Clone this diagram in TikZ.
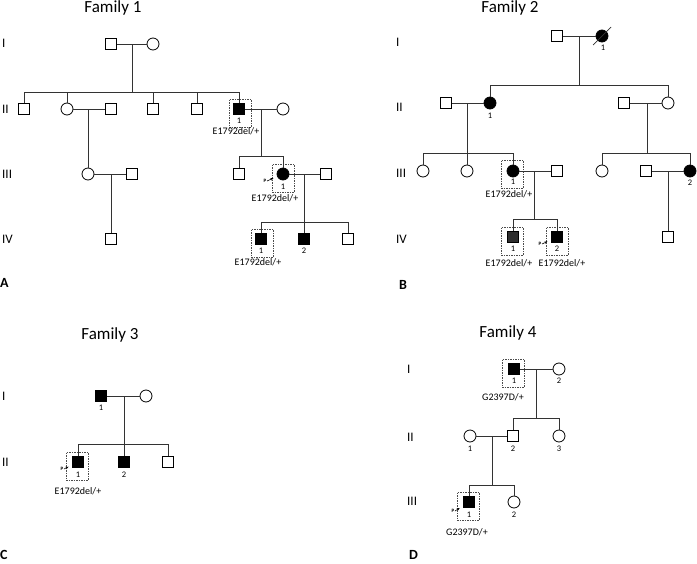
\documentclass[tikz,border=0pt]{standalone}
\usepackage{fontspec}
\setmainfont{Carlito}
\usetikzlibrary{shapes,arrows.meta}

\tikzset{
  male/.style={shape=rectangle,draw=black,minimum size=11pt,inner sep=0pt,line width=0.8pt},
  female/.style={shape=circle,draw=black,minimum size=12pt,inner sep=0pt,line width=0.8pt},
  aff/.style={fill=black},
  line/.style={draw=black!80,line width=0.8pt},
  num/.style={font=\fontsize{8.5}{8.5}\selectfont,inner sep=0pt},
  geno/.style={font=\fontsize{10}{10}\selectfont,inner sep=0pt},
  gen/.style={font=\fontsize{13}{13}\selectfont,anchor=west,inner sep=0pt},
  title/.style={font=\fontsize{17}{17}\selectfont,inner sep=0pt},
  panel/.style={font=\fontsize{14}{14}\selectfont\bfseries,anchor=west,inner sep=0pt},
  probox/.style={draw=black!70,dash pattern=on 1.5pt off 1pt,line width=0.6pt,minimum width=22pt,minimum height=28pt,inner sep=0pt},
  parrow/.style={-{Stealth[length=3pt,width=2.5pt]},line width=0.6pt,shorten >=4pt},
  plabel/.style={font=\fontsize{5}{5}\selectfont\bfseries,inner sep=0.5pt,anchor=east},
}

\begin{document}
\begin{tikzpicture}[x=1pt,y=-1pt]
\useasboundingbox (0,0) rectangle (697,563);

% Family 1
\node[title] (t1) at (113,8) {Family 1};
\node[gen] (f1gI) at (2,43) {I};
\node[gen] (f1gII) at (2,109) {II};
\node[gen] (f1gIII) at (2,174) {III};
\node[gen] (f1gIV) at (2,239) {IV};
\node[panel] (pa) at (0,283) {A};

\node[male] (f1i1) at (111,44) {};
\node[female] (f1i2) at (153,44) {};
\coordinate (f1m1) at (132,44);
\coordinate (f1s1) at (132,92);

\node[male] (f1ii1) at (24,109) {};
\node[female] (f1ii2) at (67,109) {};
\node[male] (f1ii3) at (111,109) {};
\node[male] (f1ii4) at (153,109) {};
\node[male] (f1ii5) at (197,109) {};
\node[male,aff] (f1ii6) at (239,109) {};
\node[female] (f1ii7) at (283,109) {};
\node[probox] (f1bx1) at (240,113) {};
\node[num] (f1n1) at (239,121) {1};
\node[geno] (f1g1) at (236,131) {E1792del/+};
\coordinate (f1m2) at (88,109);
\coordinate (f1m3) at (261,109);
\coordinate (f1s3) at (261,156);

\node[female] (f1iii1) at (88,174) {};
\node[male] (f1iii2) at (132,174) {};
\node[male] (f1iii3) at (239,174) {};
\node[female,aff] (f1iii4) at (283,174) {};
\node[male] (f1iii5) at (326,174) {};
\node[probox] (f1bx2) at (283,178) {};
\node[num] (f1n2) at (283,187) {1};
\node[geno] (f1g2) at (275,198) {E1792del/+};
\coordinate (f1p1) at (267,181);
\node[plabel] (f1pl1) at (f1p1) {P};
\coordinate (f1m4) at (111,174);
\coordinate (f1m5) at (304,174);
\coordinate (f1s5) at (304,222);

\node[male] (f1iv1) at (111,239) {};
\node[male,aff] (f1iv2) at (261,239) {};
\node[male,aff] (f1iv3) at (304,239) {};
\node[male] (f1iv4) at (348,239) {};
\node[probox] (f1bx3) at (262,243) {};
\node[num] (f1n3) at (261,251) {1};
\node[num] (f1n4) at (304,251) {2};
\node[geno] (f1g3) at (258,262) {E1792del/+};

\draw[line] (f1i1) -- (f1i2);
\draw[line] (f1m1) -- (f1s1);
\foreach \c in {f1ii1,f1ii2,f1ii4,f1ii5,f1ii6}
  \draw[line] (f1s1) -| (\c);
\draw[line] (f1ii2) -- (f1ii3);
\draw[line] (f1m2) -- (f1iii1);
\draw[line] (f1ii6) -- (f1ii7);
\draw[line] (f1m3) -- (f1s3);
\draw[line] (f1s3) -| (f1iii3);
\draw[line] (f1s3) -| (f1iii4);
\draw[line] (f1iii1) -- (f1iii2);
\draw[line] (f1m4) -- (f1iv1);
\draw[line] (f1iii4) -- (f1iii5);
\draw[line] (f1m5) -- (f1s5);
\foreach \c in {f1iv2,f1iv3,f1iv4}
  \draw[line] (f1s5) -| (\c);
\draw[parrow] (f1p1) -- (f1iii4);

% Family 2
\node[title] (t2) at (510,8) {Family 2};
\node[gen] (f2gI) at (396,42) {I};
\node[gen] (f2gII) at (396,107) {II};
\node[gen] (f2gIII) at (396,173) {III};
\node[gen] (f2gIV) at (396,239) {IV};
\node[panel] (pb) at (399,285) {B};

\node[male] (f2i1) at (557,36) {};
\node[female,aff] (f2i2) at (602,36) {};
\node[num] (f2n1) at (603,48) {1};
\coordinate (f2d1) at (593,45);
\coordinate (f2d2) at (611,27);
\coordinate (f2m1) at (579,36);
\coordinate (f2s1) at (579,85);

\node[male] (f2ii1) at (446,103) {};
\node[female,aff] (f2ii2) at (490,103) {};
\node[num] (f2n2) at (490,116) {1};
\node[male] (f2ii3) at (624,103) {};
\node[female] (f2ii4) at (668,103) {};
\coordinate (f2m2) at (467,103);
\coordinate (f2s2) at (467,153);
\coordinate (f2m3) at (647,103);
\coordinate (f2s3) at (647,153);

\node[female] (f2iii1) at (423,171) {};
\node[female] (f2iii2) at (467,171) {};
\node[female,aff] (f2iii3) at (513,171) {};
\node[male] (f2iii4) at (557,171) {};
\node[female] (f2iii5) at (602,171) {};
\node[male] (f2iii6) at (646,171) {};
\node[female,aff] (f2iii7) at (690,171) {};
\node[num] (f2n3) at (690,183) {2};
\node[probox] (f2bx1) at (512,174) {};
\node[num] (f2n4) at (513,182) {1};
\node[geno] (f2g1) at (509,194) {E1792del/+};
\coordinate (f2m4) at (534,171);
\coordinate (f2s4) at (534,219);
\coordinate (f2m5) at (668,171);

\node[male,fill=black!82] (f2iv1) at (513,237) {};
\node[male,aff] (f2iv2) at (557,237) {};
\node[male] (f2iv3) at (668,237) {};
\node[probox] (f2bx2) at (512,241) {};
\node[probox] (f2bx3) at (557,241) {};
\node[num] (f2n5) at (513,249) {1};
\node[num] (f2n6) at (557,249) {2};
\node[geno] (f2g2) at (509,263) {E1792del/+};
\node[geno] (f2g3) at (562,263) {E1792del/+};
\coordinate (f2p1) at (542,244);
\node[plabel] (f2pl1) at (f2p1) {P};

\draw[line] (f2i1) -- (f2i2);
\draw[line,line width=0.7pt] (f2d1) -- (f2d2);
\draw[line] (f2m1) -- (f2s1);
\draw[line] (f2s1) -| (f2ii2);
\draw[line] (f2s1) -| (f2ii4);
\draw[line] (f2ii1) -- (f2ii2);
\draw[line] (f2ii3) -- (f2ii4);
\draw[line] (f2m2) -- (f2s2);
\foreach \c in {f2iii1,f2iii2,f2iii3}
  \draw[line] (f2s2) -| (\c);
\draw[line] (f2m3) -- (f2s3);
\draw[line] (f2s3) -| (f2iii5);
\draw[line] (f2s3) -| (f2iii7);
\draw[line] (f2iii3) -- (f2iii4);
\draw[line] (f2m4) -- (f2s4);
\draw[line] (f2s4) -| (f2iv1);
\draw[line] (f2s4) -| (f2iv2);
\draw[line] (f2iii6) -- (f2iii7);
\draw[line] (f2m5) -- (f2iv3);
\draw[parrow] (f2p1) -- (f2iv2);

% Family 3
\node[title] (t3) at (110,335) {Family 3};
\node[gen] (f3gI) at (2,396) {I};
\node[gen] (f3gII) at (2,462) {II};
\node[panel] (pc) at (0,555) {C};

\node[male,aff] (f3i1) at (101,396) {};
\node[num] (f3n1) at (101,408) {1};
\node[female] (f3i2) at (146,396) {};
\coordinate (f3m1) at (124,396);
\coordinate (f3s1) at (124,444);

\node[male,aff] (f3ii1) at (78,462) {};
\node[male,aff] (f3ii2) at (124,462) {};
\node[male] (f3ii3) at (168,462) {};
\node[probox] (f3bx1) at (77,466) {};
\node[num] (f3n2) at (78,475) {1};
\node[num] (f3n3) at (124,475) {2};
\node[geno] (f3g1) at (78,491) {E1792del/+};
\coordinate (f3p1) at (64,469);
\node[plabel] (f3pl1) at (f3p1) {P};

\draw[line] (f3i1) -- (f3i2);
\draw[line] (f3m1) -- (f3s1);
\foreach \c in {f3ii1,f3ii2,f3ii3}
  \draw[line] (f3s1) -| (\c);
\draw[parrow] (f3p1) -- (f3ii1);

% Family 4
\node[title] (t4) at (508,333) {Family 4};
\node[gen] (f4gI) at (407,369) {I};
\node[gen] (f4gII) at (407,437) {II};
\node[gen] (f4gIII) at (407,501) {III};
\node[panel] (pd) at (409,555) {D};

\node[male,aff] (f4i1) at (514,369) {};
\node[female] (f4i2) at (559,369) {};
\node[probox] (f4bx1) at (513,373) {};
\node[num] (f4n1) at (514,381) {1};
\node[num] (f4n2) at (559,381) {2};
\node[geno] (f4g1) at (503,397) {G2397D/+};
\coordinate (f4m1) at (536,369);
\coordinate (f4s1) at (536,418);

\node[female] (f4ii1) at (470,436) {};
\node[male] (f4ii2) at (513,436) {};
\node[female] (f4ii3) at (559,436) {};
\node[num] (f4n3) at (470,449) {1};
\node[num] (f4n4) at (513,449) {2};
\node[num] (f4n5) at (559,449) {3};
\coordinate (f4m2) at (492,436);
\coordinate (f4s2) at (492,485);

\node[male,aff] (f4iii1) at (469,502) {};
\node[female] (f4iii2) at (514,502) {};
\node[probox] (f4bx2) at (468,506) {};
\node[num] (f4n6) at (469,515) {1};
\node[num] (f4n7) at (514,515) {2};
\node[geno] (f4g2) at (467,532) {G2397D/+};
\coordinate (f4p1) at (455,511);
\node[plabel] (f4pl1) at (f4p1) {P};

\draw[line] (f4i1) -- (f4i2);
\draw[line] (f4m1) -- (f4s1);
\draw[line] (f4s1) -| (f4ii2);
\draw[line] (f4s1) -| (f4ii3);
\draw[line] (f4ii1) -- (f4ii2);
\draw[line] (f4m2) -- (f4s2);
\draw[line] (f4s2) -| (f4iii1);
\draw[line] (f4s2) -| (f4iii2);
\draw[parrow] (f4p1) -- (f4iii1);
\end{tikzpicture}
\end{document}
